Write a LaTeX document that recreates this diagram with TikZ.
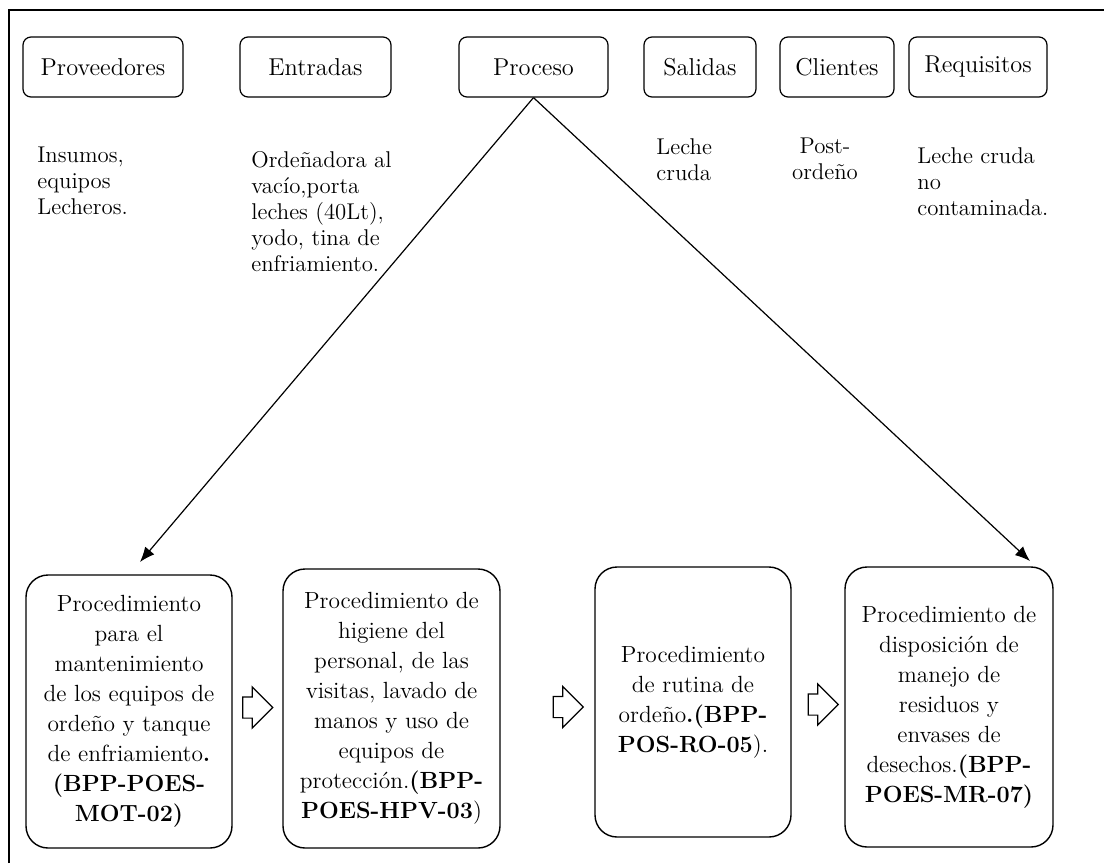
\documentclass[tikz,border=0pt]{standalone}
\usepackage{tikz}
\usetikzlibrary{arrows.meta,positioning,shapes.arrows}

\begin{document}
\begin{tikzpicture}[x=0.5pt, y=-0.5pt, >={Latex[length=7.5pt,width=6pt]}]
\tikzset{topbox/.style={draw, rounded corners=4pt, minimum height=30pt, line width=.6pt, font=\fontsize{12.2}{13}\selectfont, inner sep=0pt}, lbl/.style={anchor=north west, align=left, inner sep=0pt, font=\fontsize{11.4}{13}\selectfont}, procbox/.style={draw, rounded corners=11pt, align=center, line width=.7pt, inner sep=0pt, font=\fontsize{11.7}{15}\selectfont}, hollow/.style={single arrow, draw, line width=.6pt, minimum width=0pt, minimum height=15pt, single arrow head extend=5pt, inner xsep=0pt, inner ysep=5pt}, arr/.style={->, line width=.6pt}}
\useasboundingbox (0,0) rectangle (1104,863);
\draw[line width=1pt] (9,863) -- (9,10) -- (1104,10);
\node[topbox, minimum width=80pt] (prov) at (103,67) {Proveedores};
\node[topbox, minimum width=75.5pt] (entr) at (315.5,67) {Entradas};
\node[topbox, minimum width=74.5pt] (proc) at (533.5,67) {Proceso};
\node[topbox, minimum width=56pt] (sal) at (700,67) {Salidas};
\node[topbox, minimum width=57pt] (cli) at (837,67) {Clientes};
\node[topbox, minimum width=69pt] (req) at (978,67) {Requisitos};
\node[lbl] (provtxt) at (37,147) {Insumos,\\equipos\\Lecheros.};
\node[lbl] (entrtxt) at (251,151) {Ordeñadora al\\vacío,porta\\leches (40Lt),\\yodo, tina de\\enfriamiento.};
\node[lbl] (saltxt) at (656,138) {Leche\\cruda};
\node[lbl, align=center, anchor=north] (clitxt) at (825,138) {Post-\\ordeño};
\node[lbl] (reqtxt) at (917,147) {Leche cruda\\no\\contaminada.};
\node[procbox, minimum width=103pt, minimum height=136.5pt] (p1) at (129,711.5) {Procedimiento\\para el\\mantenimiento\\de los equipos de\\ordeño y tanque\\de enfriamiento\textbf{.}\\\textbf{(BPP-POES-}\\\textbf{MOT-02)}};
\node[procbox, minimum width=108.5pt, minimum height=139.5pt] (p2) at (391.5,708.5) {Procedimiento de\\higiene del\\personal, de las\\visitas, lavado de\\manos y uso de\\equipos de\\protección.\textbf{(BPP-}\\\textbf{POES-HPV-03})};
\node[procbox, minimum width=98pt, minimum height=135pt] (p3) at (693,702) {Procedimiento\\de rutina de\\ordeño\textbf{.(BPP-}\\\textbf{POS-RO-05}).};
\node[procbox, minimum width=104pt, minimum height=140pt] (p4) at (949,707) {Procedimiento de\\disposición de\\manejo de\\residuos y\\envases de\\desechos.\textbf{(BPP-}\\\textbf{POES-MR-07)}};
\node[hollow] (h1) at (252.5,707.5) {};
\node[hollow] (h2) at (563,707) {};
\node[hollow] (h3) at (818,704.5) {};
\coordinate (e1) at (140,562);
\coordinate (e4) at (1030,561);
\draw[arr] (proc.south) -- (e1);
\draw[arr] (proc.south) -- (e4);
\end{tikzpicture}
\end{document}
